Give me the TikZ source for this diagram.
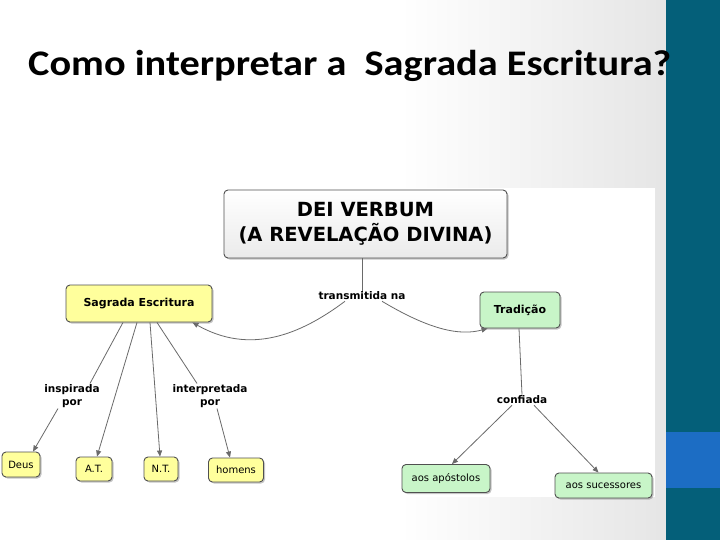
\documentclass[tikz,border=0pt]{standalone}
\usepackage{fontspec}
\setmainfont{DejaVu Sans}
\newfontfamily\titlefont{Carlito}
\usetikzlibrary{shadows,arrows.meta}
\definecolor{teal}{HTML}{045F79}
\definecolor{bandblue}{HTML}{1C6DC4}
\definecolor{yell}{HTML}{FFFF9C}
\definecolor{grn}{HTML}{C8F5C8}
\definecolor{bord}{HTML}{505050}
\definecolor{lnk}{HTML}{6A6A6A}
\tikzset{
  box/.style={draw=bord, line width=0.9pt, rounded corners=4pt, inner sep=0pt,
    drop shadow={shadow xshift=1.5pt, shadow yshift=-1.5pt, opacity=0.45}},
  ybox/.style={box, fill=yell},
  gbox/.style={box, fill=grn},
  leaf/.style={font=\fontsize{10}{11}\selectfont},
  lab/.style={font=\fontsize{10.5}{12.5}\selectfont\bfseries, align=center, inner sep=1pt},
  conn/.style={draw=lnk, line width=0.8pt},
  arr/.style={conn, -{Triangle[length=6pt,width=5pt]}},
}
\begin{document}
\begin{tikzpicture}[x=1pt,y=-1pt]
\useasboundingbox (0,0) rectangle (720,540);
% background
\fill[white] (0,0) rectangle (400,540);
\shade[left color=white, right color=black!10] (400,0) rectangle (666,540);
\fill[white] (0,188) rectangle (655,497);
\fill[teal] (666,0) rectangle (720,540);
\fill[bandblue] (666,432) rectangle (720,488);
% title
\node[anchor=base west, inner sep=0pt] (title) at (28,76)
  {\scalebox{1.12}[1]{\titlefont\bfseries\fontsize{36}{40}\selectfont Como interpretar a\ \ Sagrada Escritura?}};
% main node
\node[box, top color=white, bottom color=black!8, minimum width=283pt, minimum height=68pt,
      font=\fontsize{19.5}{25}\selectfont\bfseries, align=center] (dv) at (365.5,224)
  {DEI VERBUM\\(A REVELAÇÃO DIVINA)};
\node[lab] (trans) at (362,296) {transmitida na};
\node[ybox, minimum width=146pt, minimum height=37pt, font=\fontsize{11}{12}\selectfont\bfseries] (se) at (139,303.5) {Sagrada Escritura};
\node[gbox, minimum width=80pt, minimum height=36pt, font=\fontsize{11}{12}\selectfont\bfseries] (tr) at (520,310) {Tradição};
\node[lab] (conf) at (522,400) {confiada};
\node[lab] (insp) at (72,396) {inspirada\\por};
\node[lab] (interp) at (210,396) {interpretada\\por};
% leaves
\node[ybox, leaf, minimum width=38pt, minimum height=25pt] (deus) at (21,464.5) {Deus};
\node[ybox, leaf, minimum width=36pt, minimum height=24pt] (at) at (94,469) {A.T.};
\node[ybox, leaf, minimum width=34pt, minimum height=24pt] (nt) at (161,469) {N.T.};
\node[ybox, leaf, minimum width=55pt, minimum height=24pt] (hom) at (236,470) {homens};
\node[gbox, leaf, minimum width=88pt, minimum height=28pt] (apo) at (446,478.5) {aos apóstolos};
\node[gbox, leaf, minimum width=97pt, minimum height=25pt] (suc) at (603.5,485.5) {aos sucessores};
% connectors
\draw[conn] (dv.south -| trans.north) -- (trans.north);
\draw[arr] ([xshift=-17pt]trans.south) .. controls (300,335) and (250,355) .. ([xshift=-20pt]se.south east);
\draw[arr] ([xshift=20pt]trans.south) .. controls (430,330) and (460,336) .. ([xshift=8pt]tr.south west);
\draw[conn] ([xshift=-1pt]tr.south) -- (conf.north);
\draw[arr] ([xshift=-10pt]conf.south) -- ([xshift=6pt]apo.north);
\draw[arr] ([xshift=12pt]conf.south) -- ([xshift=-5pt]suc.north);
\draw[conn] ([xshift=-16pt]se.south) -- ([xshift=18pt]insp.north);
\draw[arr] ([xshift=-14pt]insp.south) -- ([xshift=12pt]deus.north);
\draw[arr] ([xshift=-2pt]se.south) -- ([xshift=3pt]at.north);
\draw[conn] ([xshift=18pt]se.south) -- ([xshift=-13pt]interp.north);
\draw[arr] ([xshift=11pt]se.south) -- ([xshift=-1pt]nt.north);
\draw[arr] ([xshift=7pt]interp.south) -- ([xshift=-6pt]hom.north);
\end{tikzpicture}
\end{document}
